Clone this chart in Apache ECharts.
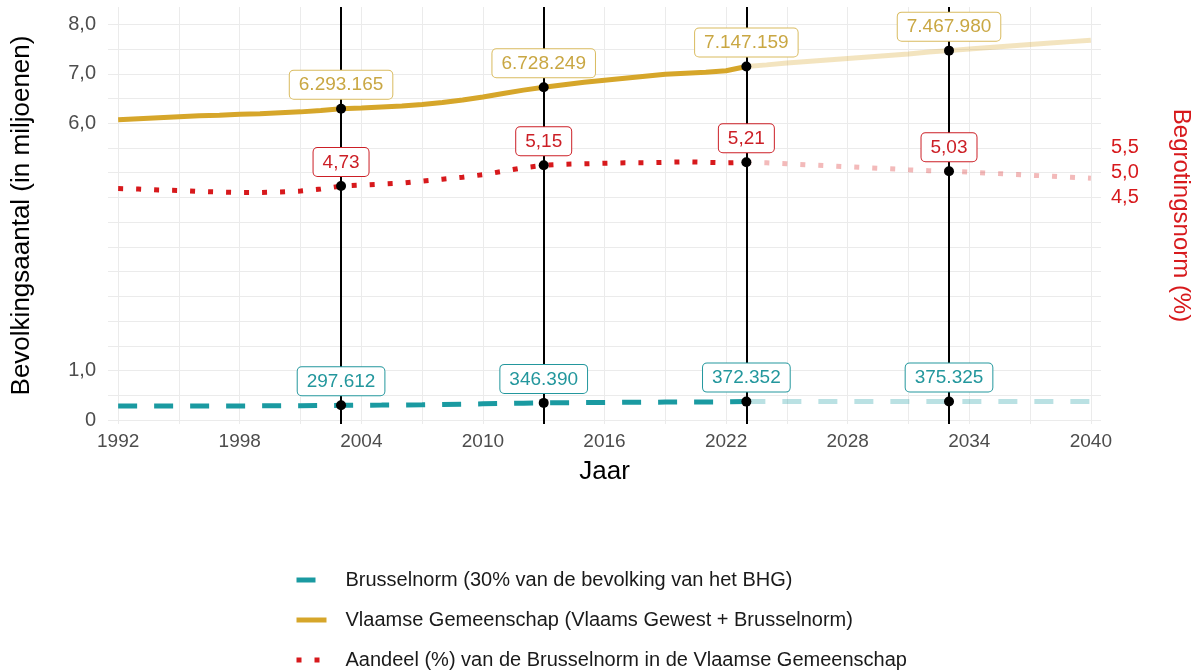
<!DOCTYPE html>
<html>
<head>
<meta charset="utf-8">
<script src="https://cdn.jsdelivr.net/npm/echarts@6/dist/echarts.min.js"></script>
<style>
  html, body { margin: 0; padding: 0; background: #fff; }
  #chart { width: 1201px; height: 671px; }
</style>
</head>
<body>
<div id="chart"></div>
<script>
// jaren (waargenomen en projectie)
const yearsObs = [1992, 1993, 1994, 1995, 1996, 1997, 1998, 1999, 2000, 2001, 2002, 2003, 2004, 2005, 2006, 2007,
  2008, 2009, 2010, 2011, 2012, 2013, 2014, 2015, 2016, 2017, 2018, 2019, 2020, 2021, 2022, 2023];
const yearsProj = [2023, 2024, 2025, 2026, 2027, 2028, 2029, 2030, 2031, 2032, 2033, 2034, 2035, 2036, 2037,
  2038, 2039, 2040];

// Vlaamse Gemeenschap (miljoenen)
const vgObs = [6.07, 6.09, 6.11, 6.13, 6.15, 6.16, 6.18, 6.19, 6.21, 6.23, 6.26, 6.293, 6.31, 6.33, 6.35, 6.38,
  6.42, 6.47, 6.53, 6.60, 6.67, 6.728, 6.78, 6.83, 6.87, 6.91, 6.95, 6.99, 7.01, 7.03, 7.06, 7.147];
const vgProj = [7.147, 7.18, 7.22, 7.25, 7.28, 7.31, 7.34, 7.37, 7.40, 7.44, 7.468, 7.50, 7.53, 7.56, 7.59,
  7.62, 7.65, 7.68];

// Brusselnorm (miljoenen)
const bnObs = [0.285, 0.285, 0.285, 0.285, 0.285, 0.285, 0.286, 0.287, 0.288, 0.290, 0.293, 0.2976, 0.300, 0.302,
  0.305, 0.309, 0.314, 0.320, 0.327, 0.334, 0.341, 0.3464, 0.350, 0.353, 0.355, 0.358, 0.360, 0.363, 0.366, 0.366,
  0.367, 0.3724];
const bnProj = [0.3724, 0.3727, 0.373, 0.3733, 0.3736, 0.3739, 0.3742, 0.3745, 0.3748, 0.3751, 0.3753, 0.3755,
  0.3757, 0.3759, 0.376, 0.3761, 0.3762, 0.3763];

// Aandeel (%)
const pctObs = [4.68, 4.67, 4.65, 4.64, 4.62, 4.61, 4.60, 4.60, 4.61, 4.63, 4.67, 4.73, 4.75, 4.77, 4.79, 4.83,
  4.87, 4.91, 4.96, 5.03, 5.10, 5.15, 5.17, 5.18, 5.19, 5.20, 5.20, 5.21, 5.22, 5.21, 5.20, 5.21];
const pctProj = [5.21, 5.20, 5.18, 5.16, 5.14, 5.12, 5.10, 5.08, 5.06, 5.04, 5.03, 5.01, 4.99, 4.97, 4.95,
  4.93, 4.91, 4.89];

// markeringen
const markerYears = [2003, 2013, 2023, 2033];
const vgMarker = [6293165, 6728249, 7147159, 7467980];
const bnMarker = [297612, 346390, 372352, 375325];
const pctMarker = [4.73, 5.15, 5.21, 5.03];

// assen
const xLabelTicks = [1992, 1998, 2004, 2010, 2016, 2022, 2028, 2034, 2040];
const xGridTicks = [1992, 1995, 1998, 2001, 2004, 2007, 2010, 2013, 2016, 2019, 2022, 2025, 2028, 2031, 2034,
  2037, 2040];
const yLabelTicks = [0, 1, 6, 7, 8];
const yGridTicks = [0, 0.5, 1, 1.5, 2, 2.5, 3, 3.5, 4, 4.5, 5, 5.5, 6, 6.5, 7, 7.5, 8];
const rightLabelTicks = [4.5, 5, 5.5];

const names = [
  'Brusselnorm (30% van de bevolking van het BHG)',
  'Vlaamse Gemeenschap (Vlaams Gewest + Brusselnorm)',
  'Aandeel (%) van de Brusselnorm in de Vlaamse Gemeenschap'
];

const TEAL = '#1a9aa1', GOLD = '#d6a62a', RED = '#d7191c';
const FONT = 'Liberation Sans, Arial, sans-serif';

function zip(xs, ys) { return xs.map((x, i) => [x, ys[i]]); }
function dots(n) { return String(n).replace(/\B(?=(\d{3})+(?!\d))/g, '.'); }
function comma(v, d) { return v.toFixed(d).replace('.', ','); }

function lineSeries(name, data, color, type, faded) {
  return {
    name: name,
    type: 'line',
    data: data,
    symbol: 'none',
    smooth: false,
    z: 2,
    itemStyle: { color: color },
    lineStyle: { color: color, width: 5, type: type, cap: 'butt', opacity: faded ? 0.3 : 1 },
    emphasis: { disabled: true },
    silent: true
  };
}

function pointSeries(points, fmt, textColor, borderColor) {
  return {
    type: 'scatter',
    data: points,
    symbolSize: 10,
    z: 5,
    itemStyle: { color: '#000', opacity: 1 },
    label: {
      show: true,
      position: 'top',
      distance: 5,
      formatter: fmt,
      color: textColor,
      fontSize: 19,
      fontFamily: FONT,
      backgroundColor: '#fff',
      borderColor: borderColor,
      borderWidth: 1,
      borderRadius: 4,
      padding: [5, 9, 4, 9]
    },
    silent: true
  };
}

const chart = echarts.init(document.getElementById('chart'));
chart.setOption({
  animation: false,
  textStyle: { fontFamily: FONT },
  grid: { left: 108, right: 99, top: 7, bottom: 247 },
  legend: {
    data: names,
    orient: 'vertical',
    left: 294,
    top: 570,
    height: 101,
    padding: 0,
    itemWidth: 30,
    itemHeight: 14,
    itemGap: 20,
    selectedMode: false,
    itemStyle: { opacity: 0 },
    lineStyle: { width: 5 },
    textStyle: { fontSize: 20, color: '#1a1a1a', padding: [0, 0, 0, 14] }
  },
  xAxis: {
    type: 'value',
    min: 1991.5,
    max: 2040.5,
    name: 'Jaar',
    nameLocation: 'middle',
    nameGap: 35,
    nameTextStyle: { fontSize: 26, color: '#000' },
    axisLine: { show: false },
    axisTick: { show: false, customValues: xGridTicks },
    axisLabel: { customValues: xLabelTicks, fontSize: 19, color: '#4d4d4d', margin: 8, formatter: v => String(v) },
    splitLine: { show: true, lineStyle: { color: '#ebebeb', width: 1 } }
  },
  yAxis: [{
    type: 'value',
    min: -0.08,
    max: 8.35,
    name: 'Bevolkingsaantal (in miljoenen)',
    nameLocation: 'middle',
    nameGap: 73,
    nameTextStyle: { fontSize: 26, color: '#000' },
    axisLine: { show: false },
    axisTick: { show: false, customValues: yGridTicks },
    axisLabel: {
      customValues: yLabelTicks, fontSize: 20, color: '#4d4d4d', margin: 12,
      formatter: v => (v === 0 ? '0' : comma(v, 1))
    },
    splitLine: { show: true, lineStyle: { color: '#ebebeb', width: 1 } }
  }, {
    type: 'value',
    position: 'right',
    min: -0.08,
    max: 8.35,
    name: 'Begrotingsnorm (%)',
    nameLocation: 'middle',
    nameRotate: -90,
    nameGap: 68,
    nameTextStyle: { fontSize: 24, color: RED },
    axisLine: { show: false },
    axisTick: { show: false, customValues: rightLabelTicks },
    axisLabel: { customValues: rightLabelTicks, fontSize: 20, color: RED, margin: 10, formatter: v => comma(v, 1) },
    splitLine: { show: false }
  }],
  series: [
    Object.assign(lineSeries(names[0], zip(yearsObs, bnObs), TEAL, [19, 17], false), {
      markLine: {
        silent: true,
        symbol: 'none',
        label: { show: false },
        lineStyle: { color: '#000', width: 2, type: 'solid' },
        z: 3,
        data: markerYears.map(y => ({ xAxis: y }))
      }
    }),
    lineSeries(names[0], zip(yearsProj, bnProj), TEAL, [19, 17], true),
    lineSeries(names[1], zip(yearsObs, vgObs), GOLD, 'solid', false),
    lineSeries(names[1], zip(yearsProj, vgProj), GOLD, 'solid', true),
    lineSeries(names[2], zip(yearsObs, pctObs), RED, [5, 13], false),
    lineSeries(names[2], zip(yearsProj, pctProj), RED, [5, 13], true),
    pointSeries(markerYears.map((y, i) => [y, vgMarker[i] / 1e6]), p => dots(vgMarker[p.dataIndex]), '#c9a743', '#d9bb5f'),
    pointSeries(markerYears.map((y, i) => [y, bnMarker[i] / 1e6]), p => dots(bnMarker[p.dataIndex]), '#23979d', '#23979d'),
    pointSeries(markerYears.map((y, i) => [y, pctMarker[i]]), p => comma(pctMarker[p.dataIndex], 2), '#cc1f26', '#cc1f26')
  ]
});
</script>
</body>
</html>
